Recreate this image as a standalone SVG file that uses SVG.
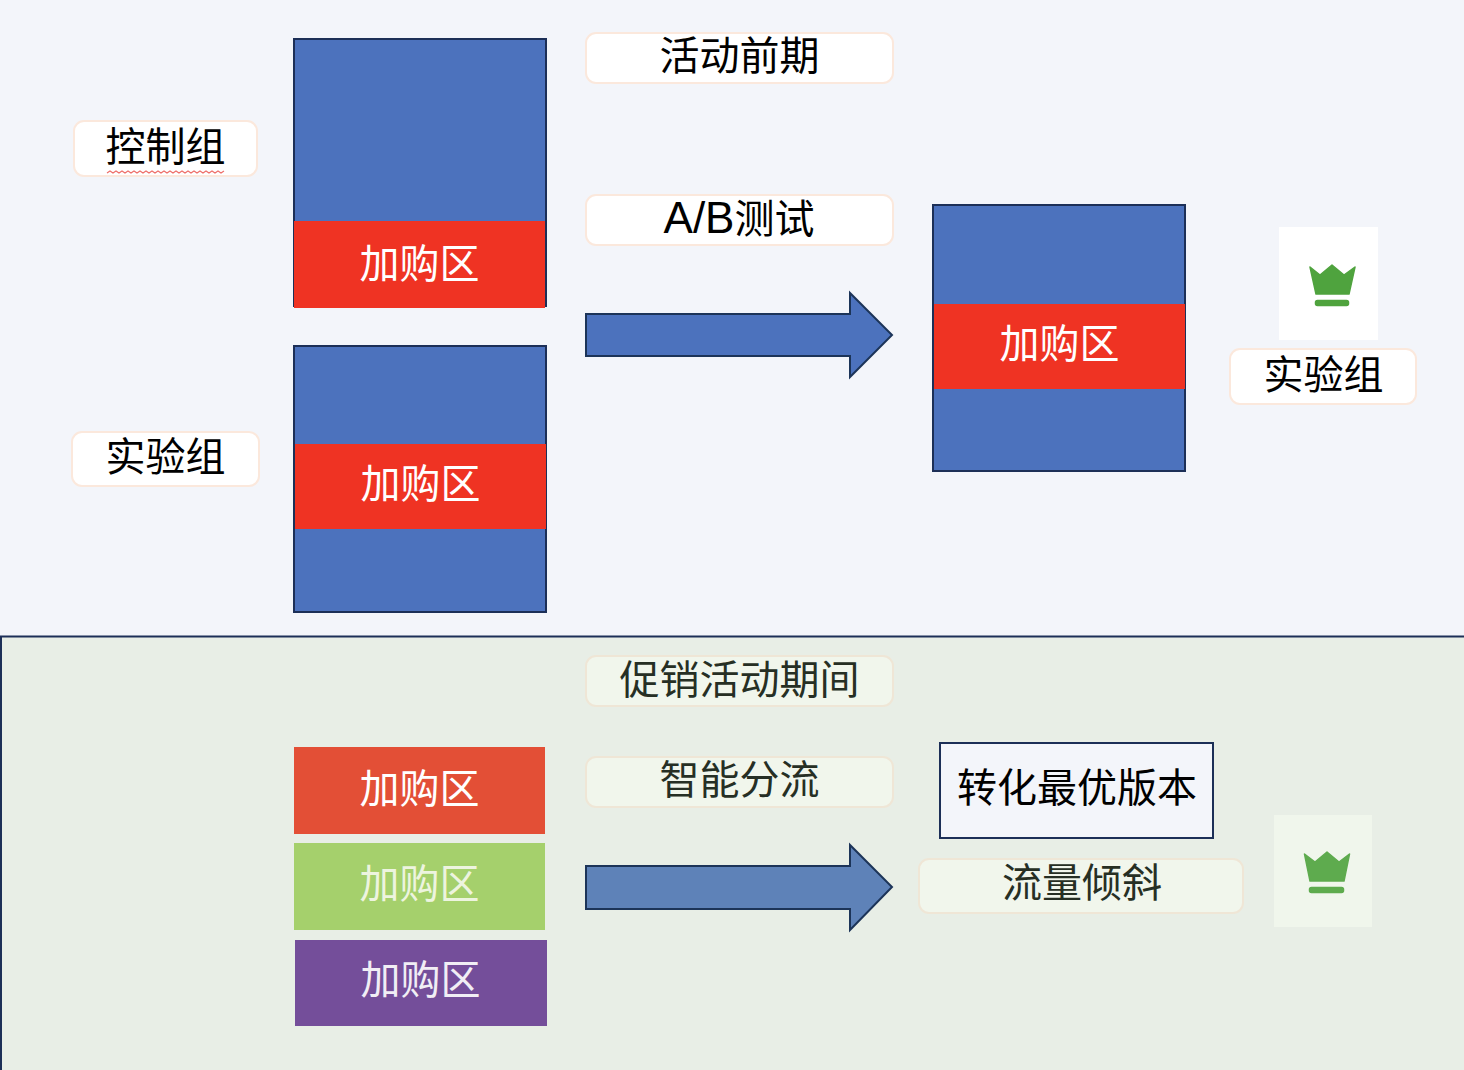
<svg xmlns="http://www.w3.org/2000/svg" width="1464" height="1070" viewBox="0 0 1464 1070">
<style>
text{font-family:"Noto Sans CJK SC","Liberation Sans",sans-serif;font-size:40px;text-anchor:middle;fill:#000}
.lab{fill:#fff;stroke:#fbe8dc;stroke-width:2}
.labg{fill:#f1f6ec;stroke:#efe6d6;stroke-width:2}
.blue{fill:#4c72bd;stroke:#1c2f57;stroke-width:2}
.red{fill:#ef3323}
.w{fill:#fff}
.d{fill:#262f24}
.crown{fill:#4fa33e;stroke:#4fa33e;stroke-width:1.5;stroke-linejoin:round}
.crown2{fill:#5eab4e;stroke:#5eab4e;stroke-width:1.5;stroke-linejoin:round}
.arrow{stroke:#1c3458;stroke-width:2}
</style>
<rect id="top-bg" width="1464" height="636" fill="#f3f5fa"/>
<rect id="bottom-bg" x="1" y="636.5" width="1470" height="440" fill="#e8eee6" stroke="#1c2f57" stroke-width="2"/>
<g id="connectors">
<path class="arrow" fill="#4c72bd" d="M586 314H850V293L892 335L850 377V356H586Z"/>
<path class="arrow" fill="#5e82b8" d="M586 866H850V845L892 887L850 930V909H586Z"/>
</g>
<g id="n-control-label"><rect class="lab" x="74" y="121" width="183" height="55" rx="10"/><text x="165.500" y="161">控制组</text><path d="M107 173l3 -2l3 2l3 -2l3 2l3 -2l3 2l3 -2l3 2l3 -2l3 2l3 -2l3 2l3 -2l3 2l3 -2l3 2l3 -2l3 2l3 -2l3 2l3 -2l3 2l3 -2l3 2l3 -2l3 2l3 -2l3 2l3 -2l3 2l3 -2l3 2l3 -2l3 2l3 -2l3 2l3 -2l3 2l3 -2" fill="none" stroke="#ee6f6a" stroke-width="1.200"/></g>
<g id="n-exp-label"><rect class="lab" x="72" y="432" width="187" height="54" rx="10"/><text x="165.500" y="470.500">实验组</text></g>
<g id="n-control"><rect class="blue" x="294" y="39" width="252" height="267"/><rect class="red" x="294" y="221" width="251" height="87"/><text class="w" x="419.500" y="277.500">加购区</text></g>
<g id="n-exp"><rect class="blue" x="294" y="346" width="252" height="266"/><rect class="red" x="295" y="444" width="251" height="85"/><text class="w" x="420.500" y="497.500">加购区</text></g>
<g id="n-pre"><rect class="lab" x="586" y="33" width="307" height="50" rx="10"/><text x="739.500" y="69.500">活动前期</text></g>
<g id="n-ab"><rect class="lab" x="586" y="195" width="307" height="50" rx="10"/><text x="739" y="232.500"><tspan style="font-family:'Liberation Sans',sans-serif;font-size:44px">A/B</tspan>测试</text></g>
<g id="n-result"><rect class="blue" x="933" y="205" width="252" height="266"/><rect class="red" x="934" y="304" width="251" height="85"/><text class="w" x="1059.500" y="357.500">加购区</text></g>
<g id="n-crown1"><rect x="1279" y="227" width="99" height="113" fill="#fff"/><path class="crown" d="M1310 267L1320 275L1332 265L1344 275L1355 267L1349 294H1316Z"/><rect class="crown" x="1315.500" y="300.500" width="33" height="5" rx="2"/></g>
<g id="n-exp-label2"><rect class="lab" x="1230" y="349" width="186" height="55" rx="10"/><text x="1323.500" y="388.500">实验组</text></g>
<g id="n-promo"><rect class="labg" x="586" y="656" width="307" height="50" rx="10"/><text class="d" x="739.500" y="694">促销活动期间</text></g>
<g id="n-smart"><rect class="labg" x="586" y="757" width="307" height="50" rx="10"/><text class="d" x="739.500" y="794">智能分流</text></g>
<g id="n-v1"><rect x="294" y="747" width="251" height="87" fill="#e34f36"/><text class="w" x="419.500" y="802.500">加购区</text></g>
<g id="n-v2"><rect x="294" y="843" width="251" height="87" fill="#a5d06c"/><text x="419.500" y="897.500" style="fill:#edf4df">加购区</text></g>
<g id="n-v3"><rect x="295" y="940" width="252" height="86" fill="#744e9a"/><text x="420.500" y="993.500" style="fill:#f1eef5">加购区</text></g>
<g id="n-best"><rect x="940" y="743" width="273" height="95" fill="#f3f5fa" stroke="#1c2f57" stroke-width="2"/><text x="1077" y="802">转化最优版本</text></g>
<g id="n-tilt"><rect class="labg" x="919" y="859" width="324" height="54" rx="10"/><text class="d" x="1082" y="897">流量倾斜</text></g>
<g id="n-crown2"><rect x="1274" y="815" width="98" height="112" fill="#f0f6ec"/><path class="crown2" d="M1304.500 854L1315 862L1327 852L1339 862L1349.500 854L1344 881H1310Z"/><rect class="crown2" x="1309.500" y="887.500" width="34" height="5" rx="2"/></g>
</svg>
